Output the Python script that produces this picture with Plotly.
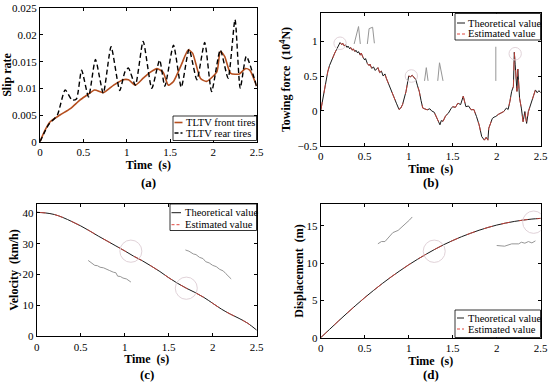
import plotly.graph_objects as go

# ---------------- data ----------------
# (a) slip rate
t_front = [0, 0.05, 0.115, 0.23, 0.35, 0.46, 0.54, 0.63, 0.73, 0.85, 0.96, 1.02, 1.1, 1.19, 1.27, 1.35, 1.42,
           1.48, 1.54, 1.63, 1.71, 1.76, 1.85, 1.92, 2.04, 2.08, 2.13, 2.2, 2.3, 2.37, 2.42, 2.5]
slip_front = [0, 0.0019, 0.0037, 0.0050, 0.0062, 0.0078, 0.0087, 0.0097, 0.0092, 0.0106, 0.0116, 0.0116,
              0.0106, 0.0119, 0.0130, 0.0137, 0.0130, 0.0106, 0.0113, 0.0144, 0.0172, 0.0166, 0.0119,
              0.0113, 0.0131, 0.0169, 0.0160, 0.0128, 0.0127, 0.0137, 0.0134, 0.0104]
t_rear = [0, 0.05, 0.1, 0.2, 0.29, 0.37, 0.42, 0.48, 0.56, 0.64, 0.73, 0.82, 0.92, 0.98, 1.02, 1.1, 1.19,
          1.29, 1.38, 1.44, 1.54, 1.63, 1.72, 1.81, 1.9, 1.98, 2.08, 2.17, 2.25, 2.31, 2.38, 2.5]
slip_rear = [0, 0.0017, 0.0032, 0.0050, 0.0097, 0.0078, 0.0080, 0.0134, 0.0084, 0.0154, 0.0091, 0.0178,
             0.0096, 0.0131, 0.0138, 0.0106, 0.0188, 0.0100, 0.0153, 0.0104, 0.0181, 0.0102, 0.0173,
             0.0116, 0.0186, 0.0094, 0.0172, 0.0119, 0.0229, 0.0100, 0.0160, 0.0103]

# (b) towing force (10^4 N)
t_force = [0, 0.02, 0.04, 0.06, 0.08, 0.10, 0.12, 0.14, 0.16, 0.18, 0.20, 0.22, 0.24, 0.25, 0.27, 0.28,
           0.30, 0.31, 0.33, 0.34, 0.36, 0.37, 0.39, 0.40, 0.42, 0.43, 0.45, 0.46, 0.48, 0.50, 0.51, 0.53,
           0.55, 0.56, 0.58, 0.60, 0.62, 0.65, 0.67, 0.69, 0.71, 0.73, 0.745, 0.76, 0.78, 0.80, 0.82, 0.84,
           0.86, 0.89, 0.91, 0.93, 0.95, 0.97, 1.0, 1.02, 1.04, 1.06, 1.08, 1.10, 1.12, 1.14, 1.16, 1.18,
           1.21, 1.24, 1.26, 1.29, 1.32, 1.355, 1.37, 1.39, 1.42, 1.45, 1.48, 1.5, 1.53, 1.56, 1.59, 1.62,
           1.65, 1.68, 1.71, 1.74, 1.77, 1.8, 1.83, 1.86, 1.88, 1.9, 1.91, 1.93, 1.95, 1.97, 1.99, 2.02,
           2.05, 2.08, 2.11, 2.13, 2.15, 2.17, 2.19, 2.2, 2.21, 2.23, 2.24, 2.26, 2.28, 2.3, 2.32, 2.34,
           2.36, 2.39, 2.41, 2.44, 2.46, 2.48, 2.5]
force = [0, 0.15, 0.28, 0.42, 0.56, 0.65, 0.72, 0.78, 0.83, 0.88, 0.93, 0.98, 0.95, 0.97, 0.93, 0.95,
         0.91, 0.93, 0.89, 0.91, 0.87, 0.89, 0.85, 0.87, 0.83, 0.85, 0.80, 0.83, 0.77, 0.73, 0.75, 0.68,
         0.65, 0.67, 0.61, 0.63, 0.58, 0.62, 0.55, 0.57, 0.50, 0.53, 0.47, 0.42, 0.35, 0.28, 0.23, 0.15,
         0.11, 0.02, 0.04, 0.09, 0.18, 0.28, 0.50, 0.49, 0.51, 0.47, 0.45, 0.36, 0.28, 0.15, 0.04, 0.03,
         0.015, 0.03, 0.0, -0.02, -0.11, -0.20, -0.14, -0.15, -0.07, -0.035, 0.03, 0.06, 0.05, 0.11, 0.09,
         0.21, 0.06, 0.07, 0.015, 0.02, -0.08, -0.2, -0.37, -0.42, -0.38, -0.42, -0.25, -0.18, -0.11,
         -0.09, -0.08, -0.05, -0.035, -0.01, 0.04, 0.02, 0.135, 0.28, 0.35, 0.84, 0.67, 0.28, 0.60, 0.18,
         0.04, -0.155, -0.01, -0.18, -0.01, 0.11, 0.18, 0.30, 0.26, 0.29, 0.26]

# (c) velocity (km/h) and (d) displacement (m)
t_motion = [0, 0.1, 0.2, 0.3, 0.4, 0.5, 0.6, 0.7, 0.8, 0.9, 1.0, 1.1, 1.2, 1.3, 1.4, 1.5, 1.6, 1.7, 1.8,
            1.9, 2.0, 2.1, 2.2, 2.3, 2.4, 2.5]
velocity = [40.2, 40.0, 39.5, 38.5, 37.2, 35.8, 34.2, 32.5, 30.9, 29.3, 27.7, 26.0, 24.5, 22.8, 21.0,
            19.0, 17.2, 15.6, 14.2, 12.6, 10.7, 8.8, 7.2, 5.8, 4.2, 2.0]
displacement = [0, 1.11, 2.22, 3.30, 4.35, 5.37, 6.34, 7.27, 8.15, 8.98, 9.78, 10.52, 11.22, 11.88, 12.49,
                13.04, 13.55, 14.00, 14.42, 14.79, 15.11, 15.38, 15.60, 15.78, 15.92, 16.01]

# zoom-in insets (grey magnified snippets)
inset_b = [
    ([0.38, 0.43, 0.45], [0.96, 1.21, 0.96]),
    ([0.53, 0.55, 0.59, 0.61], [0.96, 1.18, 1.20, 0.97]),
    ([1.18, 1.20, 1.22], [0.43, 0.62, 0.43]),
    ([1.33, 1.35, 1.39], [0.43, 0.69, 0.43]),
    ([1.99, 1.99], [0.43, 0.92]),
]
inset_c = [
    ([0.585, 0.62, 0.66, 0.69, 0.72, 0.76, 0.79, 0.83, 0.87, 0.90, 0.92, 0.95, 0.98, 1.02, 1.07],
     [24.6, 23.9, 23.0, 22.9, 22.4, 22.2, 21.7, 21.3, 20.8, 20.6, 19.5, 19.4, 18.9, 18.6, 17.6]),
    ([1.69, 1.73, 1.78, 1.81, 1.85, 1.89, 1.92, 1.96, 2.0, 2.04, 2.08, 2.12, 2.15, 2.18, 2.21],
     [28.0, 27.6, 26.7, 26.5, 25.6, 25.2, 24.2, 23.8, 23.0, 22.6, 21.7, 21.2, 20.3, 19.6, 18.6]),
]
inset_d = [
    ([0.65, 0.69, 0.73, 0.77, 0.82, 0.88, 0.94, 0.97, 1.01, 1.04],
     [12.6, 12.9, 12.9, 13.5, 14.1, 14.4, 15.0, 15.4, 15.8, 16.2]),
    ([2.0, 2.09, 2.17, 2.25, 2.28, 2.32, 2.36, 2.40, 2.44],
     [12.37, 12.28, 12.59, 12.59, 12.81, 12.68, 12.9, 12.72, 12.99]),
]
# highlight circles (centres)
circles_b = [(0.22, 0.97), (1.03, 0.50), (2.21, 0.82)]
circles_c = [(1.07, 27.6), (1.70, 15.6)]
circles_d = [(1.29, 11.6), (2.42, 15.5)]

x_ticks = [0, 0.5, 1, 1.5, 2, 2.5]
x_ticktext = ["0", "0.5", "1", "1.5", "2", "2.5"]

legend_a = ["TLTV front tires", "TLTV rear tires"]
legend_est = ["Theoretical value", "Estimated value"]

# ---------------- styling ----------------
W, H = 550, 384
FONT = "Liberation Serif, Times New Roman, DejaVu Serif, serif"
C_FRONT = "#B44E1E"
C_THEO = "#1a1a1a"
C_EST = "#E0483F"
C_INSET = "rgb(150,150,150)"
C_CIRC = "rgba(222,208,214,0.95)"


def px(x):
    return x / W


def py(y):
    return 1 - y / H


fig = go.Figure()

# (a)
fig.add_trace(go.Scatter(x=t_front, y=slip_front, mode="lines", name=legend_a[0],
                         line=dict(color=C_FRONT, width=1.6, shape="spline", smoothing=0.6),
                         xaxis="x", yaxis="y", showlegend=False))
fig.add_trace(go.Scatter(x=t_rear, y=slip_rear, mode="lines", name=legend_a[1],
                         line=dict(color="black", width=1.4, dash="5px,3px", shape="spline", smoothing=0.6),
                         xaxis="x", yaxis="y", showlegend=False))

# (b)
for xs, ys in inset_b:
    fig.add_trace(go.Scatter(x=xs, y=ys, mode="lines", line=dict(color=C_INSET, width=1),
                             xaxis="x2", yaxis="y2", showlegend=False, hoverinfo="skip"))
fig.add_trace(go.Scatter(x=t_force, y=force, mode="lines", name=legend_est[0],
                         line=dict(color=C_THEO, width=1), xaxis="x2", yaxis="y2", showlegend=False))
fig.add_trace(go.Scatter(x=t_force, y=force, mode="lines", name=legend_est[1],
                         line=dict(color=C_EST, width=1, dash="dash"), xaxis="x2", yaxis="y2",
                         showlegend=False, opacity=0.8))

# (c)
for xs, ys in inset_c:
    fig.add_trace(go.Scatter(x=xs, y=ys, mode="lines", line=dict(color=C_INSET, width=1),
                             xaxis="x3", yaxis="y3", showlegend=False, hoverinfo="skip"))
fig.add_trace(go.Scatter(x=t_motion, y=velocity, mode="lines", name=legend_est[0],
                         line=dict(color=C_THEO, width=1, shape="spline"), xaxis="x3", yaxis="y3",
                         showlegend=False))
fig.add_trace(go.Scatter(x=t_motion, y=velocity, mode="lines", name=legend_est[1],
                         line=dict(color=C_EST, width=1, dash="dash", shape="spline"), xaxis="x3",
                         yaxis="y3", showlegend=False, opacity=0.8))

# (d)
for xs, ys in inset_d:
    fig.add_trace(go.Scatter(x=xs, y=ys, mode="lines", line=dict(color=C_INSET, width=1),
                             xaxis="x4", yaxis="y4", showlegend=False, hoverinfo="skip"))
fig.add_trace(go.Scatter(x=t_motion, y=displacement, mode="lines", name=legend_est[0],
                         line=dict(color=C_THEO, width=1, shape="spline"), xaxis="x4", yaxis="y4",
                         showlegend=False))
fig.add_trace(go.Scatter(x=t_motion, y=displacement, mode="lines", name=legend_est[1],
                         line=dict(color=C_EST, width=1, dash="dash", shape="spline"), xaxis="x4",
                         yaxis="y4", showlegend=False, opacity=0.8))

shapes = []


def add_circles(centres, rx, ry, xref, yref):
    for cx, cy in centres:
        shapes.append(dict(type="circle", xref=xref, yref=yref, x0=cx - rx, x1=cx + rx,
                           y0=cy - ry, y1=cy + ry, line=dict(color=C_CIRC, width=1)))


add_circles(circles_b, 0.07, 0.09, "x2", "y2")
add_circles(circles_c, 0.125, 3.6, "x3", "y3")
add_circles(circles_d, 0.125, 1.5, "x4", "y4")

annotations = []


def add_legend(box, names, styles, row_y, sample_x, text_x):
    x0, y0, x1, y1 = box
    shapes.append(dict(type="rect", xref="paper", yref="paper", x0=px(x0), x1=px(x1), y0=py(y1),
                       y1=py(y0), line=dict(color="black", width=0.8), fillcolor="white", layer="above"))
    for name, style, ry in zip(names, styles, row_y):
        shapes.append(dict(type="line", xref="paper", yref="paper", x0=px(sample_x[0]), x1=px(sample_x[1]),
                           y0=py(ry), y1=py(ry), line=style, layer="above"))
        annotations.append(dict(text=name, x=px(text_x), y=py(ry), xref="paper", yref="paper",
                                xanchor="left", yanchor="middle", showarrow=False,
                                font=dict(family=FONT, size=10.5, color="black")))


add_legend((173, 116, 256.5, 140.5), legend_a,
           [dict(color=C_FRONT, width=1.6), dict(color="black", width=1.4, dash="4px,2px")],
           (122.5, 133), (174.5, 182.5), 184)
est_styles = [dict(color=C_THEO, width=1), dict(color=C_EST, width=1, dash="3px,2px")]
add_legend((455, 13.5, 540.5, 40), legend_est, est_styles, (23, 34), (457, 465), 466)
add_legend((170, 204, 256.5, 230.5), legend_est, est_styles, (212.7, 224.7), (171.5, 181), 182.5)
add_legend((455, 310, 540.5, 337.5), legend_est, est_styles, (318, 329), (457, 464), 466)

axis_common = dict(showline=True, linecolor="black", linewidth=1, mirror="ticks", ticks="inside",
                   ticklen=3, tickcolor="black", showgrid=False, zeroline=False, automargin=False,
                   tickfont=dict(family=FONT, size=11, color="black"))
xt = dict(tickvals=x_ticks, ticktext=x_ticktext, range=[0, 2.5])
title_font = dict(family=FONT, size=12, color="black")

fig.update_layout(
    width=W, height=H, margin=dict(l=0, r=0, t=0, b=0),
    paper_bgcolor="white", plot_bgcolor="white",
    xaxis=dict(domain=[px(40), px(256.7)], anchor="y", **xt, **axis_common,
               title=dict(text="<b>Time  (s)</b>", font=title_font, standoff=0)),
    yaxis=dict(domain=[py(141.7), py(8.3)], anchor="x", range=[0, 0.025],
               tickvals=[0, 0.005, 0.01, 0.015, 0.02, 0.025],
               ticktext=["0", "0.005", "0.01", "0.015", "0.02", "0.025"], **axis_common,
               title=dict(text="<b>Slip rate</b>", font=title_font, standoff=0)),
    xaxis2=dict(domain=[px(320.7), px(540.7)], anchor="y2", **xt, **axis_common,
                title=dict(text="<b>Time  (s)</b>", font=title_font, standoff=1)),
    yaxis2=dict(domain=[py(145.7), py(13.3)], anchor="x2", range=[-0.5, 1.4], tickvals=[-0.5, 0, 0.5, 1],
                ticktext=["\u22120.5", "0", "0.5", "1"], **axis_common,
                title=dict(text="<b>Towing force  (10<sup>4</sup>N)</b>", font=title_font, standoff=4)),
    xaxis3=dict(domain=[px(36.7), px(256.7)], anchor="y3", **xt, **axis_common,
                title=dict(text="<b>Time  (s)</b>", font=title_font, standoff=0)),
    yaxis3=dict(domain=[py(336.3), py(203.7)], anchor="x3", range=[0, 43], tickvals=[0, 10, 20, 30, 40],
                **axis_common,
                title=dict(text="<b>Velocity  (km/h)</b>", font=title_font, standoff=1)),
    xaxis4=dict(domain=[px(320.7), px(540.7)], anchor="y4", **xt, **axis_common,
                title=dict(text="<b>Time  (s)</b>", font=title_font, standoff=0)),
    yaxis4=dict(domain=[py(337.7), py(204.3)], anchor="x4", range=[0, 17.9], tickvals=[0, 5, 10, 15],
                **axis_common,
                title=dict(text="<b>Displacement  (m)</b>", font=title_font, standoff=0)),
    shapes=shapes,
    annotations=annotations,
)

labels = [("(a)", 148, 182.5), ("(b)", 431, 182.5), ("(c)", 147, 374), ("(d)", 431, 374.5)]
for txt, x, y in labels:
    fig.add_annotation(text="<b>%s</b>" % txt, x=px(x), y=py(y), xref="paper", yref="paper",
                       showarrow=False, xanchor="center", yanchor="middle",
                       font=dict(family=FONT, size=13, color="black"))

fig.write_html("out.html", config={"displayModeBar": False},
               post_script="document.body.style.margin='0px';")
